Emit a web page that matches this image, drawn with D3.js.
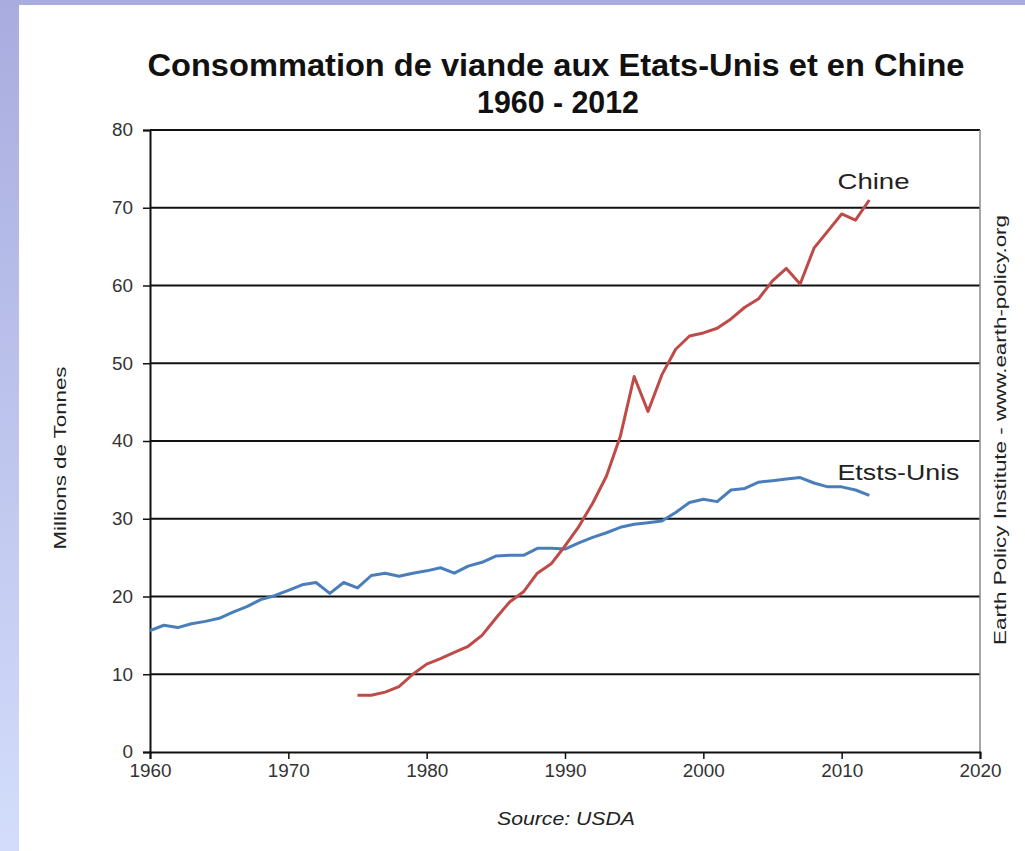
<!DOCTYPE html>
<html>
<head>
<meta charset="utf-8">
<script src="https://cdn.jsdelivr.net/npm/d3@7"></script>
<style>
  body { margin: 0; background: #fff; }
  svg { display: block; font-family: "Liberation Sans", Arial, sans-serif; }
</style>
</head>
<body>
<div id="chart"></div>
<script>
// data
const usYears = d3.range(1960, 2013)
const usValues = [15.6, 16.3, 16.0, 16.5, 16.8, 17.2, 18.0, 18.7, 19.6, 20.1,
    20.8, 21.5, 21.8, 20.4, 21.8, 21.1, 22.7, 23.0, 22.6, 23.0,
    23.3, 23.7, 23.0, 23.9, 24.4, 25.2, 25.3, 25.3, 26.2, 26.2,
    26.1, 26.9, 27.6, 28.2, 28.9, 29.3, 29.5, 29.7, 30.8, 32.1,
    32.5, 32.2, 33.7, 33.9, 34.7, 34.9, 35.1, 35.3, 34.6, 34.1,
    34.1, 33.7, 33.0]
const cnYears = d3.range(1975, 2013)
const cnValues = [7.3, 7.3, 7.7, 8.4, 10.0, 11.3, 12.0, 12.8, 13.6, 15.0,
    17.2, 19.3, 20.6, 23.0, 24.2, 26.5, 29.0, 32.0, 35.5, 40.6,
    48.3, 43.8, 48.5, 51.8, 53.5, 53.9, 54.5, 55.7, 57.2, 58.3,
    60.6, 62.2, 60.2, 64.8, 67.0, 69.2, 68.4, 71.0]
const xTicks = [1960, 1970, 1980, 1990, 2000, 2010, 2020]
const yTicks = [0, 10, 20, 30, 40, 50, 60, 70, 80]

const W = 1025, H = 851
const margin = {top: 130, right: 45, bottom: 99, left: 150}
const width = W - margin.left - margin.right
const height = H - margin.top - margin.bottom

const root = d3.select("#chart").append("svg")
    .attr("width", W)
    .attr("height", H)

// lavender frame
const grad = root.append("defs").append("linearGradient")
    .attr("id", "side").attr("x1", 0).attr("y1", 0).attr("x2", 0).attr("y2", 1)
grad.append("stop").attr("offset", "0%").attr("stop-color", "#a8acdf")
grad.append("stop").attr("offset", "100%").attr("stop-color", "#d3ddfb")
root.append("rect").attr("x", 0).attr("y", 0).attr("width", 19).attr("height", H).attr("fill", "url(#side)")
root.append("rect").attr("x", 0).attr("y", 0).attr("width", W).attr("height", 5).attr("fill", "#a8acdf")

const svg = root.append("g")
    .attr("transform", `translate(${margin.left},${margin.top})`)

const xScale = d3.scaleLinear().domain([1960, 2020]).range([0, width])
const yScale = d3.scaleLinear().domain([0, 80]).range([height, 0])

// gridlines
svg.append("g")
    .selectAll("line")
    .data(yTicks.filter(d => d > 0))
    .join("line")
    .attr("x1", 0).attr("x2", width)
    .attr("y1", d => yScale(d)).attr("y2", d => yScale(d))
    .attr("stroke", "#111").attr("stroke-width", 2)

// right border
svg.append("line")
    .attr("x1", width).attr("x2", width)
    .attr("y1", 0).attr("y2", height)
    .attr("stroke", "#888").attr("stroke-width", 1.5)

const yAxis = d3.axisLeft(yScale).tickValues(yTicks).tickSize(7).tickPadding(10)
const xAxis = d3.axisBottom(xScale).tickValues(xTicks).tickFormat(d3.format("d")).tickSize(7).tickPadding(5)

const yGroup = svg.append("g").call(yAxis)
const xGroup = svg.append("g").attr("transform", `translate(0,${height})`).call(xAxis)

for (const g of [yGroup, xGroup]) {
    g.select(".domain").attr("stroke", "#111").attr("stroke-width", 2)
    g.selectAll(".tick line").attr("stroke", "#111").attr("stroke-width", 1.5)
    g.selectAll(".tick text")
        .attr("fill", "#333")
        .style("font-size", "18px")
}
yGroup.selectAll(".tick text")
    .attr("textLength", d => String(d).length * 10.5)
    .attr("lengthAdjust", "spacingAndGlyphs")
xGroup.selectAll(".tick text")
    .attr("textLength", 42)
    .attr("lengthAdjust", "spacingAndGlyphs")

// lines
const line = d3.line()
    .x(d => xScale(d[0]))
    .y(d => yScale(d[1]))

svg.append("path")
    .datum(d3.zip(usYears, usValues))
    .attr("fill", "none")
    .attr("stroke", "#4a7ebb")
    .attr("stroke-width", 3)
    .attr("stroke-linejoin", "round")
    .attr("d", line)

svg.append("path")
    .datum(d3.zip(cnYears, cnValues))
    .attr("fill", "none")
    .attr("stroke", "#be4b48")
    .attr("stroke-width", 3)
    .attr("stroke-linejoin", "round")
    .attr("d", line)

function label(parent, x, y, size, len, txt) {
    return parent.append("text")
        .attr("x", x).attr("y", y)
        .attr("fill", "#222")
        .style("font-size", size + "px")
        .attr("textLength", len)
        .attr("lengthAdjust", "spacingAndGlyphs")
        .text(txt)
}

// series labels
label(svg, xScale(2009.7), yScale(72.4), 22, 72, "Chine")
label(svg, xScale(2009.7), yScale(35.0), 22, 122, "Etsts-Unis")

// titles
label(root, 556, 76, 32, 817, "Consommation de viande aux Etats-Unis et en Chine")
    .attr("text-anchor", "middle").style("font-weight", "bold").attr("fill", "#111")
label(root, 558, 113, 32, 162, "1960 - 2012")
    .attr("text-anchor", "middle").style("font-weight", "bold").attr("fill", "#111")

label(root, 0, 0, 16, 183, "Millions de Tonnes")
    .attr("transform", "translate(66,458) rotate(-90)")
    .attr("text-anchor", "middle")

label(root, 0, 0, 17, 430, "Earth Policy Institute - www.earth-policy.org")
    .attr("transform", "translate(1006,430) rotate(-90)")
    .attr("text-anchor", "middle")

label(root, 566, 825, 19, 138, "Source: USDA")
    .attr("text-anchor", "middle")
    .style("font-style", "italic")
</script>
</body>
</html>
